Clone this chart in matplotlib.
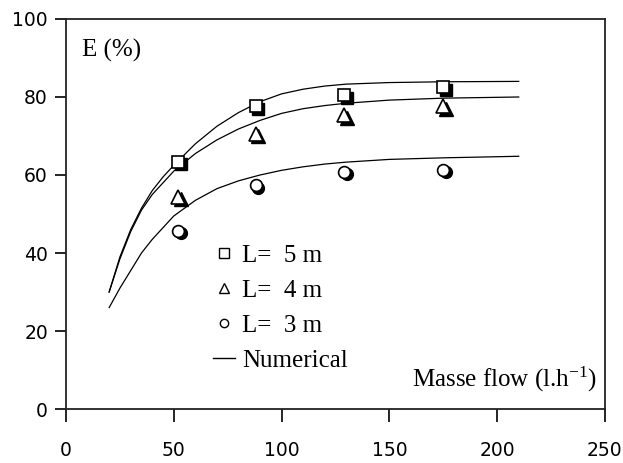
import matplotlib
matplotlib.use("Agg")
import matplotlib.pyplot as plt
from matplotlib.lines import Line2D
import matplotlib.transforms as mtransforms

plt.rcParams['mathtext.fontset'] = 'custom'
plt.rcParams['mathtext.rm'] = 'Liberation Serif'
plt.rcParams['mathtext.it'] = 'Liberation Serif'

# measured points
x_meas = [52, 88, 129, 175]
e_5m = [63.4, 77.6, 80.4, 82.5]
e_4m = [54.4, 70.6, 75.3, 77.6]
e_3m = [45.7, 57.4, 60.8, 61.4]

# numerical curves
x_num = [20, 25, 30, 35, 40, 45, 50, 60, 70, 80, 90, 100, 110, 120, 130, 150, 175, 210]
num_5m = [30, 39, 46, 51.5, 56, 59.5, 62.5, 68, 72.5, 76, 78.8, 80.8, 82, 82.8, 83.3, 83.7, 83.9, 84]
num_4m = [30, 38.5, 45.5, 51, 55, 58, 61, 65.5, 69, 71.8, 74, 75.8, 77, 77.8, 78.4, 79.2, 79.7, 80]
num_3m = [26, 31, 35.5, 40, 43.5, 46.5, 49.5, 53.5, 56.5, 58.5, 60, 61.2, 62.1, 62.8, 63.3, 64, 64.4, 64.8]

xticks = [0, 50, 100, 150, 200, 250]
yticks = [0, 20, 40, 60, 80, 100]

fig = plt.figure(figsize=(6.23, 4.63), dpi=100)
ax = fig.add_axes([0.106, 0.1166, 0.865, 0.8424])

for yy in (num_5m, num_4m, num_3m):
    ax.plot(x_num, yy, color='black', lw=0.9)

shadow = mtransforms.offset_copy(ax.transData, fig=fig, x=2.5, y=-2.5, units='dots')
series = [(e_5m, 's', 9), (e_4m, '^', 10), (e_3m, 'o', 8.5)]
for yy, mk, ms in series:
    ax.plot(x_meas, yy, ls='none', marker=mk, ms=ms, mfc='black', mec='black',
            transform=shadow, zorder=3)
    ax.plot(x_meas, yy, ls='none', marker=mk, ms=ms, mfc='white', mec='black',
            mew=1.2, zorder=4)

ax.set_xlim(0, 250)
ax.set_ylim(0, 100)
ax.set_xticks(xticks)
ax.set_yticks(yticks)
for lab in ax.get_xticklabels() + ax.get_yticklabels():
    lab.set_family('DejaVu Sans')
    lab.set_fontsize(13.5)
ax.tick_params(axis='x', direction='out', length=9, width=1.2, pad=14)
ax.tick_params(axis='y', direction='out', length=8, width=1.2, pad=5)
for sp in ax.spines.values():
    sp.set_linewidth(1.3)
    sp.set_color('#222222')

ax.text(0.03, 0.92, 'E (%)', transform=ax.transAxes, family='Liberation Serif',
        fontsize=18, ha='left', va='center')
ax.text(0.985, 0.075, r'Masse flow (l.h$^{\mathrm{-1}}$)', transform=ax.transAxes,
        family='Liberation Serif', fontsize=18, ha='right', va='center')

handles = [
    Line2D([], [], ls='none', marker='s', ms=7, mfc='white', mec='black'),
    Line2D([], [], ls='none', marker='^', ms=7, mfc='white', mec='black'),
    Line2D([], [], ls='none', marker='o', ms=6, mfc='white', mec='black'),
    Line2D([], [], color='black', lw=1),
]
labels = ['L=  5 m', 'L=  4 m', 'L=  3 m', 'Numerical']
ax.legend(handles, labels, loc='upper left', bbox_to_anchor=(0.25, 0.455),
          frameon=False, prop={'family': 'Liberation Serif', 'size': 18},
          handlelength=0.85, handletextpad=0.3, labelspacing=0.5, borderpad=0)

fig.savefig('out.png', dpi=100)
